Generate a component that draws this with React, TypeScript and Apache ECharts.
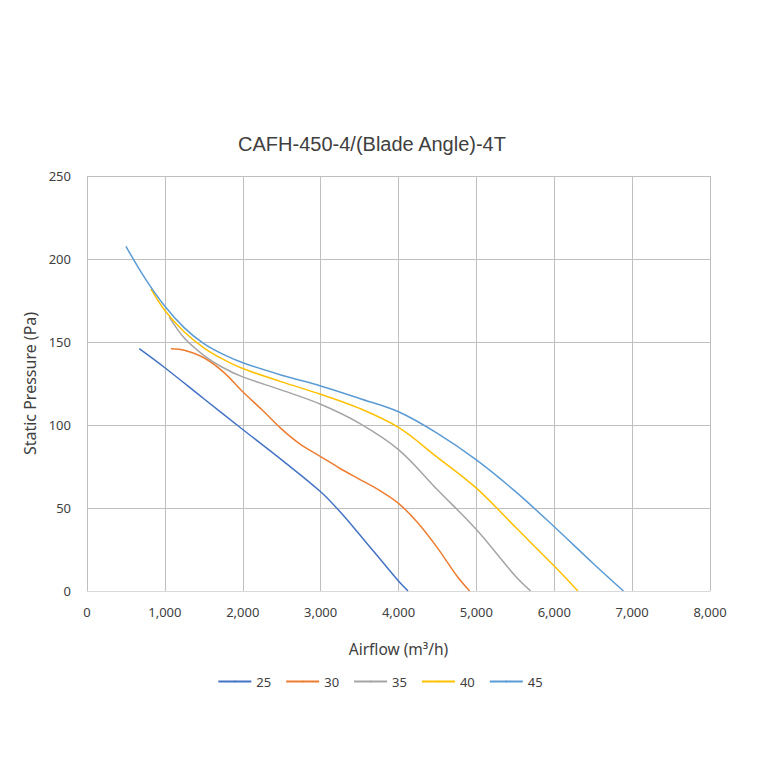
import React, { useEffect, useRef } from "react";
import * as echarts from "echarts";

const seriesNames = ["25", "30", "35", "40", "45"];
const colors = ["#4472C4", "#ED7D31", "#A5A5A5", "#FFC000", "#5B9BD5"];

const s25: number[][] = [[671, 146], [1000, 134.5], [1500, 115.8], [2000, 97.3], [2500, 79], [3000, 59.8], [3250, 47.7], [3500, 34], [3750, 20], [4000, 6], [4122, 0]];
const s30: number[][] = [[1078, 146], [1250, 145], [1500, 140.5], [1750, 132], [2000, 120], [2250, 109], [2500, 97.5], [2750, 88], [3000, 81], [3250, 73.8], [3500, 67.3], [3750, 60.8], [4000, 52.8], [4250, 41], [4500, 26], [4750, 9], [4913, 0]];
const s35: number[][] = [[1056, 165], [1250, 152.4], [1500, 142], [1750, 134.5], [2000, 129], [2500, 121], [3000, 112.5], [3500, 101], [4000, 85.2], [4500, 61], [5000, 37], [5500, 9], [5696, 0]];
const s40: number[][] = [[821, 182], [1000, 169], [1250, 156], [1500, 146.5], [1750, 139.5], [2000, 134], [2500, 126], [3000, 118.5], [3500, 110], [4000, 98.5], [4500, 80.5], [5000, 62], [5500, 38.5], [6000, 15], [6303, 0]];
const s45: number[][] = [[500, 207.6], [750, 188], [1000, 171.5], [1250, 158.5], [1500, 149], [1750, 142.5], [2000, 137.5], [2500, 130], [3000, 123.5], [3500, 116], [4000, 108], [4500, 95], [5000, 79], [5500, 60], [6000, 38.7], [6500, 16.6], [6889, 0]];
const allData = [s25, s30, s35, s40, s45];

const font = "'Noto Sans', 'Open Sans', sans-serif";

export default function App() {
  const ref = useRef<HTMLDivElement>(null);
  useEffect(() => {
    if (!ref.current) return;
    const chart = echarts.init(ref.current, null, { renderer: "svg" });
    chart.setOption({
      animation: false,
      backgroundColor: "#ffffff",
      title: {
        text: "CAFH-450-4/(Blade Angle)-4T",
        left: 367,
        top: 129,
        textAlign: "center",
        textStyle: { fontFamily: "'Liberation Sans', Arial, sans-serif", fontSize: 20, fontWeight: "normal", color: "#404040" },
      },
      legend: {
        data: seriesNames,
        bottom: 67,
        left: "center",
        itemWidth: 33,
        itemHeight: 2,
        itemGap: 14,
        textStyle: { fontFamily: font, fontSize: 13, color: "#404040" },
      },
      grid: { left: 87, right: 50, top: 176, bottom: 169, containLabel: false },
      xAxis: {
        type: "value",
        min: 0,
        max: 8000,
        interval: 1000,
        name: "Airflow (m³/h)",
        nameLocation: "middle",
        nameGap: 50,
        nameTextStyle: { fontFamily: font, fontSize: 15.5, color: "#404040" },
        axisLine: { show: true, lineStyle: { color: "#d9d9d9", width: 1 } },
        axisTick: { show: false },
        axisLabel: {
          fontFamily: font,
          fontSize: 13,
          color: "#404040",
          margin: 14,
          formatter: (v: number) => v.toLocaleString("en-US"),
        },
        splitLine: { show: true, lineStyle: { color: "#bfbfbf", width: 1 } },
      },
      yAxis: {
        type: "value",
        min: 0,
        max: 250,
        interval: 50,
        name: "Static Pressure (Pa)",
        nameLocation: "middle",
        nameGap: 47,
        nameTextStyle: { fontFamily: font, fontSize: 16, color: "#404040" },
        axisLine: { show: false },
        axisTick: { show: false },
        axisLabel: { fontFamily: font, fontSize: 13, color: "#404040", margin: 16 },
        splitLine: { show: true, lineStyle: { color: "#bfbfbf", width: 1 } },
      },
      series: seriesNames.map((name, i) => ({
        name,
        type: "line",
        data: allData[i],
        smooth: 0.35,
        symbol: "none",
        showSymbol: false,
        color: colors[i],
        lineStyle: { color: colors[i], width: 1.5 },
      })),
    });
    return () => chart.dispose();
  }, []);
  return (
    <div
      ref={ref}
      style={{ position: "fixed", left: 0, top: 0, width: 760, height: 760 }}
    />
  );
}
